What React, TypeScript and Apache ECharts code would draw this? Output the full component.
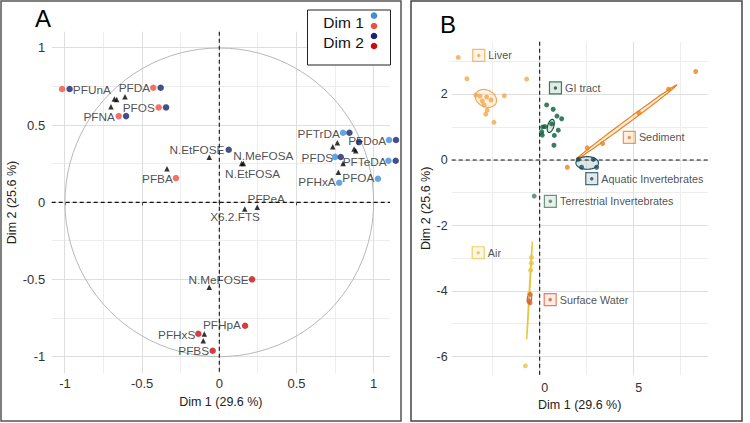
import React, { useEffect, useRef } from "react";
import * as echarts from "echarts";

const FONT = "'Liberation Sans', Arial, Helvetica, sans-serif";

// ---------- Panel A: variables (correlation circle) ----------
const ticksA = [-1, -0.5, 0, 0.5, 1];
const minorA = [-0.75, -0.25, 0.25, 0.75];

const loadings: [number, number][] = [
  [-0.68, 0.668], [-0.665, 0.666], [-0.611, 0.683], [-0.702, 0.618],
  [-0.339, 0.217], [-0.065, 0.291], [0.145, 0.252], [0.156, 0.252],
  [0.165, -0.043], [0.246, -0.032], [0.735, 0.36], [0.765, 0.386],
  [0.873, 0.345], [0.884, 0.334], [0.802, 0.252], [0.771, 0.194],
  [-0.065, -0.55], [-0.097, -0.852], [-0.104, -0.895],
];

const varNames = [
  "PFUnA", "PFDA", "PFOS", "PFNA", "N.EtFOSE", "PFBA", "N.MeFOSA", "N.EtFOSA",
  "PFPeA", "X6.2.FTS", "PFTrDA", "PFDoA", "PFDS", "PFTeDA", "PFHxA", "PFOA",
  "N.MeFOSE", "PFHpA", "PFHxS", "PFBS",
];
const varLabelPos: [number, number][] = [
  [-0.826, 0.726], [-0.55, 0.737], [-0.522, 0.612], [-0.778, 0.554],
  [-0.145, 0.338], [-0.401, 0.151], [0.285, 0.301], [0.216, 0.185],
  [0.304, 0.019], [0.102, -0.093], [0.644, 0.442], [0.958, 0.398],
  [0.635, 0.288], [0.942, 0.263], [0.633, 0.133], [0.901, 0.159],
  [-0.005, -0.503], [0.017, -0.796], [-0.276, -0.856], [-0.166, -0.962],
];

const dim1Pos: [number, number][] = [
  [0.802, 0.45], [1.1, 0.403], [0.75, 0.294], [1.096, 0.269], [0.777, 0.127], [1.028, 0.153],
];
const dim1Neg: [number, number][] = [
  [-1.019, 0.733], [-0.428, 0.741], [-0.393, 0.614], [-0.652, 0.558], [-0.281, 0.157],
];
const dim2Pos: [number, number][] = [
  [-0.97, 0.733], [-0.38, 0.741], [-0.345, 0.614], [-0.604, 0.558], [0.061, 0.34],
  [0.843, 0.45], [0.905, 0.39], [1.145, 0.403], [0.787, 0.293], [1.143, 0.269],
];
const dim2Neg: [number, number][] = [
  [0.212, -0.498], [0.167, -0.798], [-0.136, -0.85], [-0.043, -0.96],
];

// ---------- Panel B: individuals ----------
const ticksBx = [0, 5];
const minorBx = [-2.5, 2.5, 7.5];
const ticksBy = [-6, -4, -2, 0, 2];
const minorBy = [-5, -3, -1, 1, 3];

const groups = [
  "Liver", "GI tract", "Sediment", "Aquatic Invertebrates",
  "Terrestrial Invertebrates", "Air", "Surface Water",
];
const groupColors = ["#F3A84B", "#0D5B3A", "#E8821F", "#1B4E5C", "#4A7D62", "#E8C53C", "#D7653A"];
const groupLabelPos: [number, number][] = [
  [-3.24, 3.19], [0.84, 2.2], [4.77, 0.69], [2.77, -0.57], [0.57, -1.26], [-3.27, -2.83], [0.56, -4.26],
];

const liverPts: [number, number][] = [
  [-4.33, 3.13], [-3.87, 2.48], [-0.69, 2.47], [-1.88, 1.96], [-3.4, 1.98], [-3.18, 1.95],
  [-2.82, 1.92], [-2.59, 1.83], [-3.05, 1.8], [-2.96, 1.68], [-2.79, 1.52], [-2.87, 1.4], [-2.43, 1.15],
];
const giPts: [number, number][] = [
  [0.37, 1.68], [0.72, 1.55], [0.92, 1.34], [1.17, 1.26], [0.16, 1.01], [0.28, 1.02],
  [0.64, 1.1], [0.11, 0.86], [0.14, 0.76], [0.99, 0.91], [0.78, 0.75], [0.76, 0.45],
];
const sedimentPts: [number, number][] = [
  [8.3, 2.7], [6.86, 2.16], [5.28, 1.44], [3.35, 0.5], [2.53, 0.37], [1.47, -0.22],
];
const aquaticPts: [number, number][] = [[2.05, 0.02], [2.85, 0.02], [2.23, -0.22], [3.03, -0.22]];
const terrestrialPts: [number, number][] = [[-0.29, -1.1]];
const airPts: [number, number][] = [[-0.44, -2.97], [-0.44, -3.15], [-0.48, -3.36], [-0.56, -4.09], [-0.76, -6.28]];
const surfacePts: [number, number][] = [[-0.5, -4.1], [-0.57, -4.3], [-0.51, -4.36]];
const groupPts = [liverPts, giPts, sedimentPts, aquaticPts, terrestrialPts, airPts, surfacePts];

// confidence ellipses: group index, centre, half major axis (data units), minor/major ratio
const ellipseGroup = [0, 1, 2, 3, 5, 6];
const ellipseCenter: [number, number][] = [[-2.86, 1.88], [0.59, 1.04], [4.63, 1.16], [2.53, -0.09], [-0.54, -3.98], [-0.54, -4.22]];
const ellipseAxis: [number, number][] = [[0.53, -0.15], [0.106, 0.198], [2.66, 1.13], [0.6, 0], [0.149, 1.49], [0.03, 0.16]];
const ellipseRatio = [0.75, 0.45, 0.03, 0.56, 0.008, 0.4];

function rgba(hex: string, a: number) {
  const n = parseInt(hex.slice(1), 16);
  return `rgba(${(n >> 16) & 255},${(n >> 8) & 255},${n & 255},${a})`;
}

const MAJOR = "#dedede";
const MINOR = "#ededed";

// grid line records: [value, isVertical, isMajor]
function gridData(majX: number[], minX: number[], majY: number[], minY: number[]) {
  return [
    ...minX.map((v) => [v, 1, 0]),
    ...minY.map((v) => [v, 0, 0]),
    ...majX.map((v) => [v, 1, 1]),
    ...majY.map((v) => [v, 0, 1]),
  ];
}

const snap = (p: number) => Math.round(p - 0.5) + 0.5;

function gridSeries(axisIndex: number, data: number[][]) {
  return {
    type: "custom", xAxisIndex: axisIndex, yAxisIndex: axisIndex, z: 0, silent: true,
    data,
    renderItem: (params: any, api: any) => {
      const v = api.value(0);
      const vertical = api.value(1) === 1;
      const major = api.value(2) === 1;
      const cs = params.coordSys;
      const style = { stroke: major ? MAJOR : MINOR, lineWidth: 1 };
      if (vertical) {
        const x = snap(api.coord([v, 0])[0]);
        return { type: "line", shape: { x1: x, y1: cs.y, x2: x, y2: cs.y + cs.height }, style };
      }
      const y = snap(api.coord([0, v])[1]);
      return { type: "line", shape: { x1: cs.x, y1: y, x2: cs.x + cs.width, y2: y }, style };
    },
  };
}

function zeroSeries(axisIndex: number) {
  return {
    type: "custom", xAxisIndex: axisIndex, yAxisIndex: axisIndex, z: 2, silent: true,
    data: [[0, 1], [0, 0]],
    renderItem: (params: any, api: any) => {
      const cs = params.coordSys;
      const c = api.coord([0, 0]);
      const style = { stroke: "#111", lineWidth: 1.1, lineDash: [4, 3] };
      if (api.value(1) === 1) {
        return { type: "line", shape: { x1: c[0], y1: cs.y, x2: c[0], y2: cs.y + cs.height }, style };
      }
      return { type: "line", shape: { x1: cs.x, y1: c[1], x2: cs.x + cs.width, y2: c[1] }, style };
    },
  };
}

function buildOption() {
  const axisName = { fontSize: 12.5, color: "#222", fontFamily: FONT };
  const tickLbl = { fontSize: 13, color: "#333", fontFamily: FONT };

  const series: any[] = [];

  // Panel A
  series.push(gridSeries(0, gridData(ticksA, minorA, ticksA, minorA)));
  series.push({
    type: "custom", xAxisIndex: 0, yAxisIndex: 0, z: 1, silent: true, data: [[0, 0]],
    renderItem: (params: any, api: any) => {
      const c = api.coord([0, 0]);
      const r = api.size([1, 0])[0];
      return { type: "circle", shape: { cx: c[0], cy: c[1], r }, style: { fill: "transparent", stroke: "#b8b8b8", lineWidth: 1 } };
    },
  });
  series.push(zeroSeries(0));
  series.push({
    type: "scatter", xAxisIndex: 0, yAxisIndex: 0, z: 3, symbol: "triangle", symbolSize: 5.5,
    itemStyle: { color: "#000" }, data: loadings,
  });
  series.push({
    type: "scatter", xAxisIndex: 0, yAxisIndex: 0, z: 4, symbolSize: 1, clip: false,
    itemStyle: { color: "rgba(0,0,0,0)" },
    data: varNames.map((n, i) => ({ name: n, value: varLabelPos[i] })),
    label: { show: true, position: "inside", formatter: "{b}", fontSize: 11.8, color: "#222", fontFamily: FONT },
  });
  const dotSets: [[number, number][], string][] = [
    [dim1Pos, "#3F8ED8"], [dim1Neg, "#F1503D"], [dim2Pos, "#15266B"], [dim2Neg, "#CC0C0C"],
  ];
  dotSets.forEach(([d, c]) => {
    series.push({
      type: "scatter", xAxisIndex: 0, yAxisIndex: 0, z: 5, symbolSize: 6.5, clip: false,
      itemStyle: { color: c }, data: d,
    });
  });

  // Panel B
  series.push(gridSeries(1, gridData(ticksBx, minorBx, ticksBy, minorBy)));
  series.push(zeroSeries(1));
  series.push({
    type: "custom", xAxisIndex: 1, yAxisIndex: 1, z: 3, silent: true,
    data: ellipseCenter.map((c, i) => [c[0], c[1], ellipseAxis[i][0], ellipseAxis[i][1], ellipseRatio[i]]),
    renderItem: (params: any, api: any) => {
      const cx = api.value(0), cy = api.value(1), ux = api.value(2), uy = api.value(3), ratio = api.value(4);
      const c = api.coord([cx, cy]);
      const e = api.coord([cx + ux, cy + uy]);
      const ax = e[0] - c[0], ay = e[1] - c[1];
      const bx = -ay * ratio, by = ax * ratio;
      const pts: number[][] = [];
      for (let k = 0; k < 90; k++) {
        const t = (k / 90) * Math.PI * 2;
        pts.push([c[0] + ax * Math.cos(t) + bx * Math.sin(t), c[1] + ay * Math.cos(t) + by * Math.sin(t)]);
      }
      const col = groupColors[ellipseGroup[params.dataIndex]];
      return { type: "polygon", shape: { points: pts }, style: { fill: rgba(col, 0.15), stroke: col, lineWidth: 1.2 } };
    },
  });
  groupPts.forEach((d, gi) => {
    series.push({
      type: "scatter", xAxisIndex: 1, yAxisIndex: 1, z: 4, symbolSize: 5, clip: false,
      itemStyle: { color: groupColors[gi] }, data: d,
    });
  });
  series.push({
    type: "scatter", xAxisIndex: 1, yAxisIndex: 1, z: 5, symbol: "rect", symbolSize: 12, clip: false,
    data: groups.map((g, i) => ({
      name: g, value: groupLabelPos[i],
      itemStyle: { color: rgba(groupColors[i], 0.15), borderColor: groupColors[i], borderWidth: 1.2 },
    })),
    label: { show: true, position: "right", distance: 3, formatter: "{b}", fontSize: 10.8, color: "#222", fontFamily: FONT },
  });
  series.push({
    type: "scatter", xAxisIndex: 1, yAxisIndex: 1, z: 6, symbolSize: 3.5, clip: false,
    data: groups.map((g, i) => ({ name: g, value: groupLabelPos[i], itemStyle: { color: groupColors[i] } })),
  });

  return {
    animation: false,
    backgroundColor: "#fff",
    textStyle: { fontFamily: FONT },
    grid: [
      { left: 51.7, top: 31.7, width: 338.3, height: 341.6 },
      { left: 451.7, top: 41.7, width: 256, height: 333.3 },
    ],
    xAxis: [
      {
        gridIndex: 0, type: "value", min: -1.086, max: 1.106,
        axisLine: { show: false }, splitLine: { show: false },
        axisTick: { show: true, customValues: ticksA, length: 3, lineStyle: { color: "#444" } },
        axisLabel: { customValues: ticksA, margin: 4, ...tickLbl },
        name: "Dim 1 (29.6 %)", nameLocation: "middle", nameGap: 15, nameTextStyle: axisName,
      },
      {
        gridIndex: 1, type: "value", min: -4.68, max: 8.94,
        axisLine: { show: false }, splitLine: { show: false }, axisTick: { show: false },
        axisLabel: { customValues: ticksBx, margin: 6, padding: [0, 0, 0, 10], ...tickLbl, fontSize: 12.5 },
        name: "Dim 1 (29.6 %)", nameLocation: "middle", nameGap: 20, nameTextStyle: axisName,
      },
    ],
    yAxis: [
      {
        gridIndex: 0, type: "value", min: -1.106, max: 1.104,
        axisLine: { show: false }, splitLine: { show: false }, axisTick: { show: false },
        axisLabel: { customValues: ticksA, margin: 6.5, ...tickLbl },
        name: "Dim 2 (25.6 %)", nameLocation: "middle", nameGap: 25, nameTextStyle: axisName,
      },
      {
        gridIndex: 1, type: "value", min: -6.56, max: 3.61,
        axisLine: { show: false }, splitLine: { show: false }, axisTick: { show: false },
        axisLabel: { customValues: ticksBy, margin: 4, padding: [0, 0, 6, 0], ...tickLbl, fontSize: 12.5 },
        name: "Dim 2 (25.6 %)", nameLocation: "middle", nameGap: 17, nameTextStyle: axisName,
      },
    ],
    graphic: [
      { type: "rect", z: 100, silent: true, shape: { x: 1, y: 1, width: 400, height: 420 }, style: { fill: "transparent", stroke: "#555", lineWidth: 1.5 } },
      { type: "rect", z: 100, silent: true, shape: { x: 411, y: 1, width: 331, height: 420 }, style: { fill: "transparent", stroke: "#444", lineWidth: 1.5 } },
      { type: "text", z: 100, x: 35, y: 18.5, style: { text: "A", fontSize: 24, fill: "#000", fontFamily: FONT, verticalAlign: "middle" } },
      { type: "text", z: 100, x: 440, y: 24.5, style: { text: "B", fontSize: 24, fill: "#000", fontFamily: FONT, verticalAlign: "middle" } },
      { type: "rect", z: 100, shape: { x: 307.5, y: 10, width: 83, height: 55 }, style: { fill: "#fff", stroke: "#222", lineWidth: 1 } },
      { type: "text", z: 101, x: 323.3, y: 22.7, style: { text: "Dim 1", fontSize: 15.5, fill: "#111", fontFamily: FONT, verticalAlign: "middle" } },
      { type: "text", z: 101, x: 323.3, y: 42.7, style: { text: "Dim 2", fontSize: 15.5, fill: "#111", fontFamily: FONT, verticalAlign: "middle" } },
      { type: "circle", z: 101, shape: { cx: 374, cy: 15.7, r: 3.3 }, style: { fill: "#3F8ED8" } },
      { type: "circle", z: 101, shape: { cx: 374, cy: 26, r: 3.3 }, style: { fill: "#F1503D" } },
      { type: "circle", z: 101, shape: { cx: 374, cy: 36, r: 3.3 }, style: { fill: "#15266B" } },
      { type: "circle", z: 101, shape: { cx: 374, cy: 46, r: 3.3 }, style: { fill: "#CC0C0C" } },
    ],
    series,
  };
}

export default function App() {
  const ref = useRef<HTMLDivElement>(null);
  useEffect(() => {
    if (!ref.current) return;
    const chart = echarts.init(ref.current, undefined, { renderer: "svg" });
    chart.setOption(buildOption() as any);
    return () => chart.dispose();
  }, []);
  return <div ref={ref} style={{ position: "absolute", left: 0, top: 0, width: 750, height: 423 }} />;
}
